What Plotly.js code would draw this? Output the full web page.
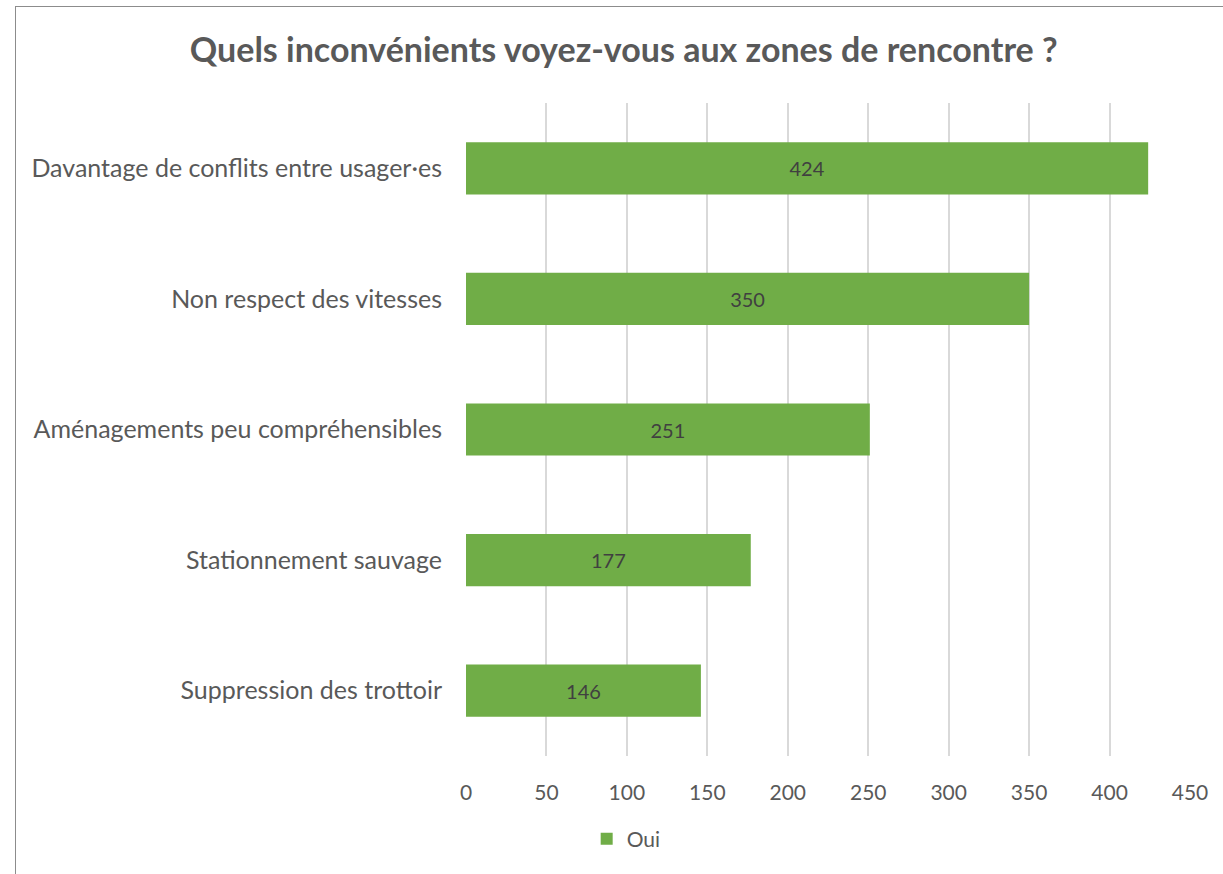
<!DOCTYPE html>
<html>
<head>
<meta charset="utf-8">
<script src="https://cdn.plot.ly/plotly-3.0.1.min.js"></script>
<style>
html,body{margin:0;padding:0;background:#fff;}
#chart{width:1223px;height:874px;position:absolute;left:0;top:0;}
#frame{position:absolute;left:15px;top:6px;width:1400px;height:1000px;border:1.5px solid #8c8c8c;pointer-events:none;}
body{overflow:hidden;}
</style>
</head>
<body>
<div id="chart"></div>
<div id="frame"></div>
<script>
const categories = [
  "Davantage de conflits entre usager·es",
  "Non respect des vitesses",
  "Aménagements peu compréhensibles",
  "Stationnement sauvage",
  "Suppression des trottoir"
];
const values = [424, 350, 251, 177, 146];
const seriesName = "Oui";
const xTicks = [0, 50, 100, 150, 200, 250, 300, 350, 400, 450];

const fontFam = "Lato, 'Open Sans', sans-serif";

const trace = {
  type: 'bar',
  orientation: 'h',
  name: seriesName,
  y: categories,
  x: values,
  text: values.map(String),
  textposition: 'inside',
  insidetextanchor: 'middle',
  textangle: 0,
  textfont: {family: fontFam, size: 20, color: '#404040'},
  marker: {color: '#70AD47'},
  hoverinfo: 'x+y',
  showlegend: true
};

const layout = {
  width: 1223,
  height: 874,
  paper_bgcolor: '#ffffff',
  plot_bgcolor: '#ffffff',
  margin: {l: 466, r: 33, t: 103, b: 118},
  title: {
    text: '<b>Quels inconvénients voyez-vous aux zones de rencontre ?</b>',
    font: {family: fontFam, size: 34, color: '#595959'},
    x: 0.51, xanchor: 'center', xref: 'container',
    y: 0.943, yanchor: 'middle', yref: 'container'
  },
  bargap: 0.6,
  xaxis: {
    range: [0, 450],
    tickvals: xTicks,
    ticktext: xTicks.map(String),
    showgrid: true,
    gridcolor: '#d9d9d9',
    gridwidth: 1.5,
    zeroline: false,
    showline: false,
    ticks: 'outside',
    ticklen: 18,
    tickcolor: 'rgba(0,0,0,0)',
    tickfont: {family: fontFam, size: 21, color: '#595959'},
    fixedrange: true
  },
  yaxis: {
    categoryorder: 'array',
    categoryarray: categories.slice().reverse(),
    autorange: true,
    showgrid: false,
    zeroline: false,
    showline: false,
    ticks: 'outside',
    ticklen: 18,
    tickcolor: 'rgba(0,0,0,0)',
    tickfont: {family: fontFam, size: 25, color: '#595959'},
    fixedrange: true
  },
  legend: {
    orientation: 'h',
    x: 0.512, xref: 'container', xanchor: 'center',
    y: 0.04, yref: 'container', yanchor: 'middle',
    font: {family: fontFam, size: 21, color: '#595959'},
    itemwidth: 30
  },
  showlegend: true
};

Plotly.newPlot('chart', [trace], layout, {displayModeBar: false, staticPlot: false});
</script>
</body>
</html>
